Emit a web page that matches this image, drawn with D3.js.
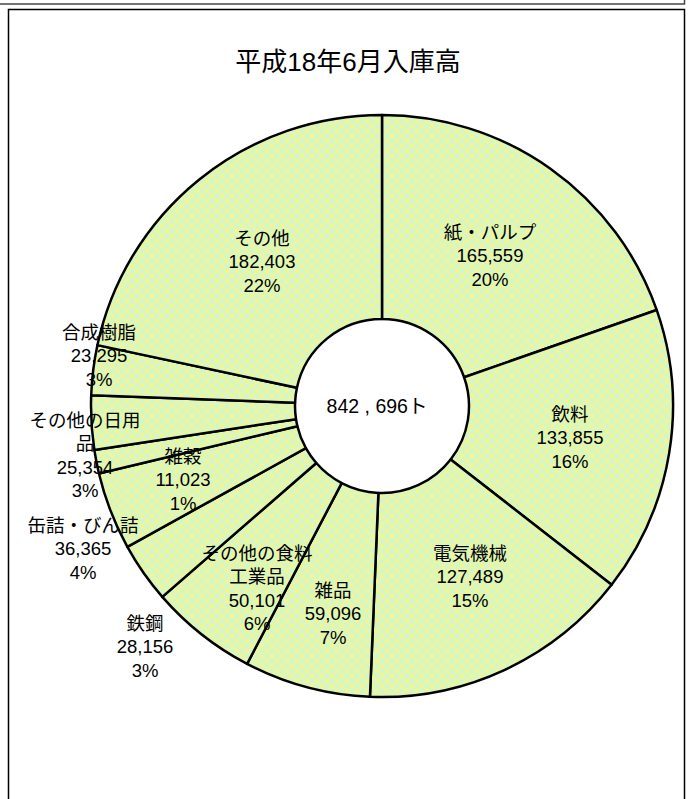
<!DOCTYPE html>
<html><head><meta charset="utf-8">
<script src="https://cdn.jsdelivr.net/npm/d3@7"></script>
<style>
html,body{margin:0;padding:0;background:#fff;}
svg{display:block;}
text{font-family:"Liberation Sans","Noto Sans CJK JP",sans-serif;fill:#000;}
</style></head>
<body>
<svg id="chart" width="688" height="799"></svg>
<script>
// ---- data ----
const title = "平成18年6月入庫高";
const categories = ["紙・パルプ","飲料","電気機械","雑品","その他の食料工業品","鉄鋼","缶詰・びん詰","雑穀","その他の日用品","合成樹脂","その他"];
const values = [165559,133855,127489,59096,50101,28156,36365,11023,25354,23295,182403];
const unit = "ト";

// ---- layout (label anchor positions: x, y of first line) ----
const labelPos = [[490,232],[570,414],[470,553],[333,590],[257,553],[145,623],[83,525],[183,456],[85,420],[99,332],[262,238]];

const svg = d3.select("#chart");
const cx = 382, cy = 406, rOuter = 291, rInner = 87;

// pattern fill (soft yellow / mint checker)
const defs = svg.append("defs");
const gY = defs.append("radialGradient").attr("id","gy");
gY.append("stop").attr("offset","0%").attr("stop-color","#fff47a").attr("stop-opacity",1);
gY.append("stop").attr("offset","100%").attr("stop-color","#fff47a").attr("stop-opacity",0);
const gC = defs.append("radialGradient").attr("id","gc");
gC.append("stop").attr("offset","0%").attr("stop-color","#bff6dc").attr("stop-opacity",0.9);
gC.append("stop").attr("offset","100%").attr("stop-color","#bff6dc").attr("stop-opacity",0);
const P = 10;
const pat = defs.append("pattern").attr("id","pat").attr("patternUnits","userSpaceOnUse")
  .attr("width",P).attr("height",P);
pat.append("rect").attr("width",P).attr("height",P).attr("fill","#f6f9aa");
[[0,0],[P,0],[0,P],[P,P],[P/2,P/2]].forEach(([x,y])=>pat.append("circle").attr("cx",x).attr("cy",y).attr("r",P/2).attr("fill","url(#gy)"));
[[P/2,0],[0,P/2],[P,P/2],[P/2,P]].forEach(([x,y])=>pat.append("circle").attr("cx",x).attr("cy",y).attr("r",P/2).attr("fill","url(#gc)"));

// frames
svg.append("rect").attr("x",-2).attr("y",-6).attr("width",686.5).attr("height",10)
  .attr("fill","none").attr("stroke","#444").attr("stroke-width",1.5);
svg.append("rect").attr("x",8.5).attr("y",9.5).attr("width",676).attr("height",820)
  .attr("fill","#fff").attr("stroke","#000").attr("stroke-width",1.5);

// title
svg.append("text").attr("x",348).attr("y",62).attr("text-anchor","middle")
  .attr("dominant-baseline","central").attr("font-size",26).text(title);

// doughnut
const data = categories.map((c,i)=>({name:c, value:values[i]}));
const total = d3.sum(values);
const pie = d3.pie().value(d=>d.value).sort(null).startAngle(0).endAngle(2*Math.PI);
const arc = d3.arc().innerRadius(rInner).outerRadius(rOuter);
const arcs = pie(data);
const g = svg.append("g").attr("transform",`translate(${cx},${cy})`);
g.selectAll("path").data(arcs).join("path")
  .attr("d",arc).attr("fill","url(#pat)")
  .attr("stroke","#000").attr("stroke-width",2.5).attr("stroke-linejoin","round");

// center total
const fmt = d3.format(",");
g.append("text").attr("x",-5).attr("y",0).attr("text-anchor","middle").attr("dominant-baseline","central")
  .attr("font-size",19.5).text(fmt(total).replace(/,/g," , ") + unit);

// labels
const lh = 23.5;
function wrap(s){ const out=[]; for(let i=0;i<s.length;i+=6) out.push(s.slice(i,i+6)); return out; }
arcs.forEach((a,i)=>{
  const lines = wrap(a.data.name).concat([fmt(a.data.value), Math.round(a.data.value/total*100)+"%"]);
  const t = svg.append("text").attr("text-anchor","middle").attr("font-size",18.5);
  lines.forEach((l,k)=>{
    t.append("tspan").attr("x",labelPos[i][0]).attr("y",labelPos[i][1]+k*lh)
     .attr("dominant-baseline","central").text(l);
  });
});
</script>
</body></html>
